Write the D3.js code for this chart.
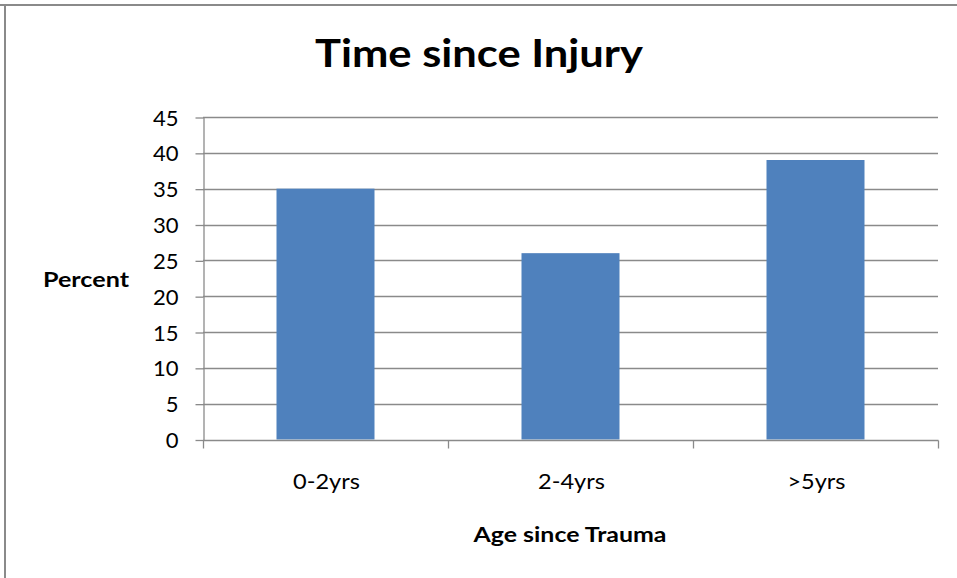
<!DOCTYPE html>
<html>
<head>
<meta charset="utf-8">
<script src="https://cdn.jsdelivr.net/npm/d3@7/dist/d3.min.js"></script>
<style>
  html, body { margin: 0; padding: 0; background: #fff; }
  svg { display: block; }
  text { font-family: Lato, "Open Sans", sans-serif; fill: #000; }
</style>
</head>
<body>
<svg id="chart" width="957" height="578"></svg>
<script>
// Chart data
const categories = ["0-2yrs", "2-4yrs", ">5yrs"];
const percentValues = [35, 26, 39];
const yTickValues = [0, 5, 10, 15, 20, 25, 30, 35, 40, 45];
const titleText = "Time since Injury";
const xTitleText = "Age since Trauma";
const yTitleText = "Percent";

const svg = d3.select("#chart");
const W = 957, H = 578;
const plot = { left: 203, right: 938, top: 117, bottom: 439.5 };
const gridColor = "#8a8a8a";
const barColor = "#4F81BD";

// widen a text element horizontally by a factor
function stretch(sel, factor) {
  sel.each(function () {
    const w = this.getComputedTextLength();
    d3.select(this).attr("textLength", w * factor).attr("lengthAdjust", "spacingAndGlyphs");
  });
}

// outer frame (top and left edges)
svg.append("line").attr("x1", 0).attr("x2", W).attr("y1", 5).attr("y2", 5)
  .attr("stroke", gridColor).attr("stroke-width", 2);
svg.append("line").attr("x1", 5).attr("x2", 5).attr("y1", 4).attr("y2", H)
  .attr("stroke", gridColor).attr("stroke-width", 2);

const y = d3.scaleLinear().domain([0, 45]).range([plot.bottom, plot.top]);
const x = d3.scaleBand().domain(categories).range([plot.left, plot.right])
  .paddingInner(0.6).paddingOuter(0.3);

// horizontal gridlines
svg.append("g").selectAll("line").data(yTickValues.filter(v => v > 0)).join("line")
  .attr("x1", plot.left).attr("x2", plot.right)
  .attr("y1", d => Math.round(y(d)) + 0.5).attr("y2", d => Math.round(y(d)) + 0.5)
  .attr("stroke", gridColor).attr("stroke-width", 1.3);

// bars
svg.append("g").selectAll("rect").data(categories).join("rect")
  .attr("x", d => x(d))
  .attr("width", x.bandwidth())
  .attr("y", (d, i) => y(percentValues[i]))
  .attr("height", (d, i) => y(0) - y(percentValues[i]))
  .attr("fill", barColor);

// y axis
const yAxis = d3.axisLeft(y).tickValues(yTickValues).tickSize(8).tickPadding(17).tickSizeOuter(0);
const gy = svg.append("g").attr("transform", `translate(${plot.left + 0.5},0.5)`).call(yAxis);
gy.select(".domain").attr("stroke", gridColor).attr("stroke-width", 1.3);
gy.selectAll(".tick line").attr("stroke", gridColor).attr("stroke-width", 1.3);
gy.selectAll(".tick text").attr("font-size", 21).attr("font-family", "Lato")
  .attr("dy", "0.36em").attr("fill", "#000");
stretch(gy.selectAll(".tick text"), 1.05);

// x axis with boundary ticks between categories
const gx = svg.append("g").attr("transform", `translate(0,${Math.round(plot.bottom) + 0.5})`);
gx.append("line").attr("x1", plot.left).attr("x2", plot.right + 0.5)
  .attr("stroke", gridColor).attr("stroke-width", 1.3);
const boundaries = categories.map(c => x(c) - (x.step() - x.bandwidth()) / 2)
  .concat([plot.right]);
gx.selectAll("line.tk").data(boundaries).join("line").attr("class", "tk")
  .attr("x1", d => Math.round(d) + 0.5).attr("x2", d => Math.round(d) + 0.5)
  .attr("y1", 0).attr("y2", 8).attr("stroke", gridColor).attr("stroke-width", 1.3);
const xl = gx.selectAll("text").data(categories).join("text")
  .attr("x", d => x(d) + x.bandwidth() / 2 + 1)
  .attr("y", 48)
  .attr("text-anchor", "middle")
  .attr("font-size", 21)
  .text(d => d);
stretch(xl, 1.12);

// titles
svg.append("text").attr("x", 479).attr("y", 67).attr("text-anchor", "middle")
  .attr("font-size", 39).attr("font-weight", 700)
  .attr("textLength", 328).attr("lengthAdjust", "spacingAndGlyphs")
  .text(titleText);
svg.append("text").attr("x", 86).attr("y", 287).attr("text-anchor", "middle")
  .attr("font-size", 20).attr("font-weight", 700)
  .attr("textLength", 86).attr("lengthAdjust", "spacingAndGlyphs")
  .text(yTitleText);
svg.append("text").attr("x", 570).attr("y", 542).attr("text-anchor", "middle")
  .attr("font-size", 20).attr("font-weight", 700)
  .attr("textLength", 193).attr("lengthAdjust", "spacingAndGlyphs")
  .text(xTitleText);
</script>
</body>
</html>
